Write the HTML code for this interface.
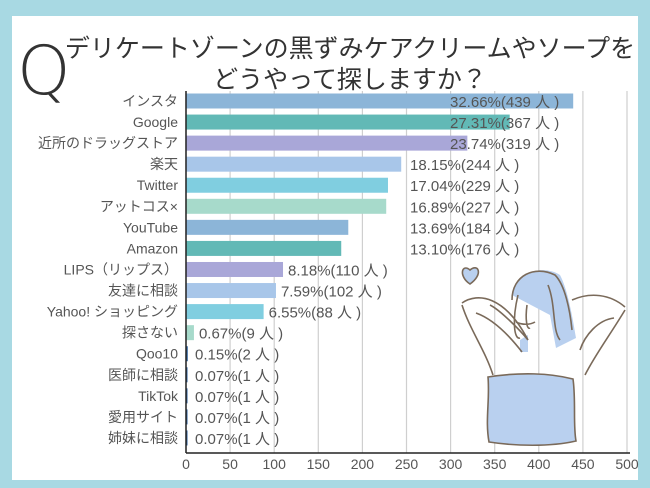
<!DOCTYPE html>
<html><head><meta charset="utf-8"><style>
html,body{margin:0;padding:0;width:650px;height:488px;background:#a8d9e3;overflow:hidden}
svg{display:block}
text{font-family:"Liberation Sans","Noto Sans CJK JP",sans-serif}
</style></head><body>
<svg id="c" width="650" height="488">
<rect x="12" y="16" width="626" height="464" fill="#fff"/>
<text x="17" y="94" font-size="68" fill="#333" style="font-family:'DejaVu Sans',sans-serif;font-weight:300">Q</text>
<text x="350" y="57" font-size="25" fill="#333" text-anchor="middle">デリケートゾーンの黒ずみケアクリームやソープを</text>
<text x="350" y="88" font-size="25" fill="#333" text-anchor="middle">どうやって探しますか？</text>
<g id="grid"></g>
<g id="illus" fill="none" stroke="#7a6a5a" stroke-width="1.6">
<path d="M470,284 C458,276 462,263 470,270 C478,263 484,274 470,284Z" fill="#b9d0ef"/>
<path d="M512,295 C515,270 545,265 560,275 C568,290 573,320 576,338 L556,348 L550,315 Z" fill="#b9d0ef" stroke="none"/>
<path d="M520,340 L520,352 L528,352 L528,335 Z" fill="#b9d0ef" stroke="none"/>
<path d="M512,300 C512,275 535,265 555,275 C565,285 570,310 572,330 M518,295 C512,320 514,340 520,338 M527,305 C525,320 527,330 530,328 M516,322 C522,325 530,325 535,322 M548,285 C556,305 552,330 560,340"/>
<path d="M462,303 C478,292 505,296 528,340 C520,330 500,310 490,305 M476,313 C490,318 505,330 522,352 M625,307 C610,294 590,292 572,300 M614,318 C598,320 585,335 580,350 M493,375 C485,350 470,330 462,305 M585,375 C595,355 610,335 625,310"/>
<path d="M488,377 C520,372 550,373 573,379 C576,400 573,425 576,441 C550,447 515,446 489,442 C485,420 490,400 488,377Z" fill="#b9d0ef"/>
</g>
<g id="bars"></g>
<g id="labels"></g>
<g id="xaxis"></g>
</svg>
<script>
const categories=["インスタ","Google","近所のドラッグストア","楽天","Twitter","アットコス×","YouTube","Amazon","LIPS（リップス）","友達に相談","Yahoo! ショッピング","探さない","Qoo10","医師に相談","TikTok","愛用サイト","姉妹に相談"];
const counts=[439,367,319,244,229,227,184,176,110,102,88,9,2,1,1,1,1];
const percents=["32.66","27.31","23.74","18.15","17.04","16.89","13.69","13.10","8.18","7.59","6.55","0.67","0.15","0.07","0.07","0.07","0.07"];
const ticks=[0,50,100,150,200,250,300,350,400,450,500];
const colors=["#8cb5d8","#62b9b6","#a9a7d8","#a8c6e9","#80cee0","#a7dacb","#8cb5d8","#62b9b6","#a9a7d8","#a8c6e9","#80cee0","#a7dacb","#2a5e9c","#2a5e9c","#2a5e9c","#2a5e9c","#2a5e9c"];
const NS="http://www.w3.org/2000/svg";
const x0=186,x1=627,top0=101,step=21.06,bh=15,axisY=453;
const xs=v=>x0+v*(x1-x0)/500;
const ys=i=>top0+i*step;
function mk(t,a,p){const e=document.createElementNS(NS,t);for(const k in a)e.setAttribute(k,a[k]);p.appendChild(e);return e;}
const G=document.getElementById('grid'),B=document.getElementById('bars'),L=document.getElementById('labels'),X=document.getElementById('xaxis');
ticks.forEach(t=>{
 const l=mk('line',{x1:xs(t),x2:xs(t),y1:91,y2:axisY,stroke:'#cfcfcf','stroke-width':1.2},G);
 
 
 const tx=mk('text',{x:xs(t),y:469,'font-size':14,fill:'#555','text-anchor':'middle'},X);
 tx.textContent=t;
 
 
});
categories.forEach((c,i)=>{
 const y=ys(i);
 const r=mk('rect',{x:x0,y:y-bh/2,width:Math.max(xs(counts[i])-x0,1.5),height:bh,fill:colors[i]},B);
 
 
 const ct=mk('text',{x:178,y:y+5,'font-size':14,fill:'#555','text-anchor':'end'},L);
 ct.textContent=c;
 
 
 const be=xs(counts[i]);
 const txt=percents[i]+'%('+counts[i]+' 人 )';
 let a={y:y+6,'font-size':15,fill:'#555','text-anchor':'start'};
 if(counts[i]>150){a.x=Math.min(Math.max(be-12,410),450);}
 else{a.x=Math.max(be+5,195);}
 const vt=mk('text',a,L);
 vt.textContent=txt;
 
 
});
const ax=mk('line',{x1:x0,x2:x1+3,y1:axisY,y2:axisY,stroke:'#222','stroke-width':1.5},X);


const ay=mk('line',{x1:x0,x2:x0,y1:91,y2:axisY,stroke:'#222','stroke-width':1.5},X);


</script>
</body></html>
